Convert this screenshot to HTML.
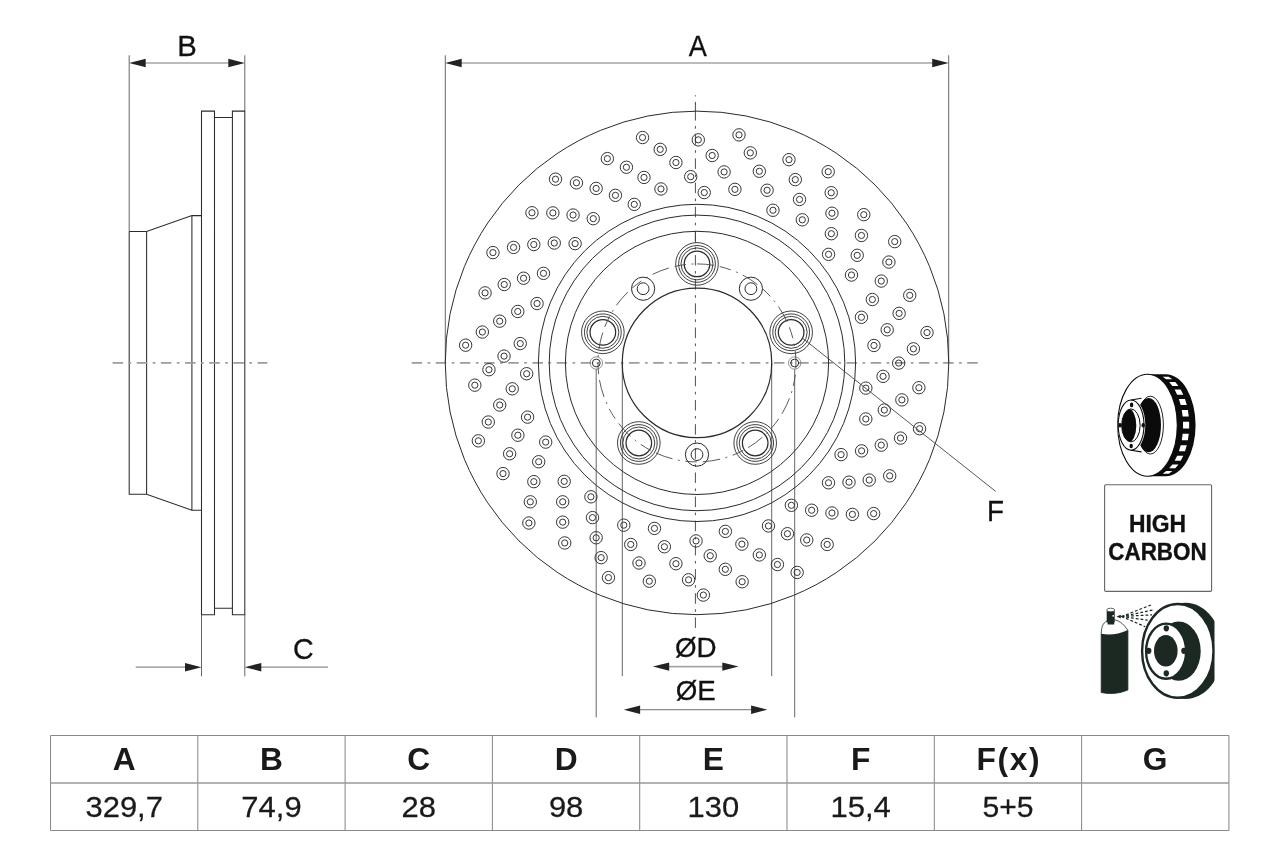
<!DOCTYPE html>
<html lang="en"><head><meta charset="utf-8"><title>Brake disc drawing</title>
<style>html,body{margin:0;padding:0;background:#fff}body{width:1280px;height:853px;overflow:hidden}svg{display:block;will-change:transform}</style>
</head><body>
<svg width="1280" height="853" viewBox="0 0 1280 853">
<rect width="1280" height="853" fill="#fff"/>
<path d="M201.5 111.1H214.5V614.70H201.5Z M232.4 111.1H244.8V614.70H232.4Z M214.5 117.5H232.4M214.5 608.3H232.4 M129.2 231.5V494.30H146.6L191.9 510.20H201.5M129.2 231.5H146.6L191.9 215.6H201.5 M146.6 231.5V494.30M191.9 215.6V510.20" fill="none" stroke="#2b2b2b" stroke-width="1.05"/>
<path d="M129.2 55.3V231.5M244.8 55.3V111.1M201.5 614.70V676.3M244.8 614.70V676.3" stroke="#4a4a4a" stroke-width="0.85" fill="none"/>
<path d="M139.2 63H234.8" stroke="#a6a6a6" stroke-width="1.6"/>
<path d="M129.20 63.00L145.70 58.80V67.20Z" fill="#222"/>
<path d="M244.80 63.00L228.30 58.80V67.20Z" fill="#222"/>
<path d="M135.7 667.2H191.5M254.8 667.2H328" stroke="#8c8c8c" stroke-width="1.2"/>
<path d="M201.50 667.20L185.00 663.00V671.40Z" fill="#222"/>
<path d="M244.80 667.20L261.30 663.00V671.40Z" fill="#222"/>
<path d="M112.6 362.9H267.4" stroke="#9c9c9c" stroke-width="1.7" stroke-dasharray="10.5 5.5 2.6 5.56" fill="none"/>
<path d="M445.3 55.3V362.9M948.7 55.3V362.9" stroke="#4a4a4a" stroke-width="0.85" fill="none"/>
<path d="M455 63H939" stroke="#a6a6a6" stroke-width="1.6"/>
<path d="M445.20 63.00L461.70 58.80V67.20Z" fill="#222"/>
<path d="M948.70 63.00L932.20 58.80V67.20Z" fill="#222"/>
<path d="M622.3 362.9V676.2M771.7 362.9V676.2M596.2 368.9V717.4M794.7 368.9V717.4" stroke="#4a4a4a" stroke-width="0.85" fill="none"/>
<path d="M662 666.6H729" stroke="#a6a6a6" stroke-width="1.6"/><path d="M633 709.7H758" stroke="#8c8c8c" stroke-width="1.2"/>
<path d="M652.90 666.60L669.20 662.40V670.80Z" fill="#222"/>
<path d="M738.60 666.60L722.30 662.40V670.80Z" fill="#222"/>
<path d="M623.80 709.70L640.10 705.50V713.90Z" fill="#222"/>
<path d="M767.40 709.70L751.10 705.50V713.90Z" fill="#222"/>
<path d="M411.6 362.9H978.5" stroke="#9c9c9c" stroke-width="1.7" stroke-dasharray="10.5 5.5 2.6 5.56" fill="none"/>
<path d="M695.4 95.3V628.75" stroke="#444" stroke-width="0.95" stroke-dasharray="10.5 5.5 2.6 5.56" stroke-dashoffset="9.4" fill="none"/>
<path d="M695.4 103.4V110.5M695.4 231V242.7" stroke="#444" stroke-width="0.95" fill="none"/>
<circle cx="697.0" cy="362.9" r="251.75" fill="none" stroke="#2b2b2b" stroke-width="1.0"/>
<circle cx="697.0" cy="362.9" r="158.6" fill="none" stroke="#2b2b2b" stroke-width="1.0"/>
<circle cx="697.0" cy="362.9" r="147.8" fill="none" stroke="#2b2b2b" stroke-width="1.0"/>
<circle cx="697.0" cy="362.9" r="131.6" fill="none" stroke="#2b2b2b" stroke-width="1.0"/>
<circle cx="697.0" cy="362.9" r="74.75" fill="none" stroke="#2b2b2b" stroke-width="1.2"/>
<g fill="none" stroke="#2b2b2b"><circle cx="697.00" cy="263.90" r="21.3" stroke-width="0.9"/><circle cx="697.00" cy="263.90" r="18.4" stroke-width="0.9"/><circle cx="697.00" cy="263.90" r="16" stroke-width="0.9"/><circle cx="697.00" cy="263.90" r="12.8" stroke-width="1.25"/></g>
<g fill="none" stroke="#2b2b2b"><circle cx="602.85" cy="332.31" r="21.3" stroke-width="0.9"/><circle cx="602.85" cy="332.31" r="18.4" stroke-width="0.9"/><circle cx="602.85" cy="332.31" r="16" stroke-width="0.9"/><circle cx="602.85" cy="332.31" r="12.8" stroke-width="1.25"/></g>
<g fill="none" stroke="#2b2b2b"><circle cx="638.81" cy="442.99" r="21.3" stroke-width="0.9"/><circle cx="638.81" cy="442.99" r="18.4" stroke-width="0.9"/><circle cx="638.81" cy="442.99" r="16" stroke-width="0.9"/><circle cx="638.81" cy="442.99" r="12.8" stroke-width="1.25"/></g>
<g fill="none" stroke="#2b2b2b"><circle cx="755.19" cy="442.99" r="21.3" stroke-width="0.9"/><circle cx="755.19" cy="442.99" r="18.4" stroke-width="0.9"/><circle cx="755.19" cy="442.99" r="16" stroke-width="0.9"/><circle cx="755.19" cy="442.99" r="12.8" stroke-width="1.25"/></g>
<g fill="none" stroke="#2b2b2b"><circle cx="791.15" cy="332.31" r="21.3" stroke-width="0.9"/><circle cx="791.15" cy="332.31" r="18.4" stroke-width="0.9"/><circle cx="791.15" cy="332.31" r="16" stroke-width="0.9"/><circle cx="791.15" cy="332.31" r="12.8" stroke-width="1.25"/></g>
<g fill="none" stroke="#2b2b2b" stroke-width="1"><circle cx="643.10" cy="288.71" r="11.6"/><circle cx="643.10" cy="288.71" r="5.9"/></g>
<g fill="none" stroke="#2b2b2b" stroke-width="1"><circle cx="750.90" cy="288.71" r="11.6"/><circle cx="750.90" cy="288.71" r="5.9"/></g>
<g fill="none" stroke="#2b2b2b" stroke-width="1"><circle cx="697.00" cy="454.60" r="11.6"/><circle cx="697.00" cy="454.60" r="5.9"/></g>
<g fill="none"><circle cx="596.3" cy="363.0" r="6.2" stroke="#777" stroke-width="0.8"/><circle cx="596.3" cy="363.0" r="3.9" stroke="#2b2b2b" stroke-width="1"/></g>
<g fill="none"><circle cx="794.7" cy="363.0" r="6.2" stroke="#777" stroke-width="0.8"/><circle cx="794.7" cy="363.0" r="3.9" stroke="#2b2b2b" stroke-width="1"/></g>
<path d="M697.0 263.9A99.0 99.0 0 1 1 696.99 263.9" fill="none" stroke="#484848" stroke-width="0.9" stroke-dasharray="11.5 5.5 2 5.5 17.5 6" stroke-dashoffset="25"/>
<g fill="none" stroke="#2b2b2b" stroke-width="0.95">
<circle cx="555.51" cy="179.18" r="6.2"/><circle cx="555.51" cy="179.18" r="3.1"/>
<circle cx="576.44" cy="182.81" r="6.2"/><circle cx="576.44" cy="182.81" r="3.1"/>
<circle cx="596.16" cy="188.43" r="6.2"/><circle cx="596.16" cy="188.43" r="3.1"/>
<circle cx="615.44" cy="195.35" r="6.2"/><circle cx="615.44" cy="195.35" r="3.1"/>
<circle cx="634.25" cy="204.37" r="6.2"/><circle cx="634.25" cy="204.37" r="3.1"/>
<circle cx="531.95" cy="212.76" r="6.2"/><circle cx="531.95" cy="212.76" r="3.1"/>
<circle cx="552.87" cy="212.91" r="6.2"/><circle cx="552.87" cy="212.91" r="3.1"/>
<circle cx="573.06" cy="215.03" r="6.2"/><circle cx="573.06" cy="215.03" r="3.1"/>
<circle cx="593.25" cy="218.67" r="6.2"/><circle cx="593.25" cy="218.67" r="3.1"/>
<circle cx="492.94" cy="252.62" r="6.2"/><circle cx="492.94" cy="252.62" r="3.1"/>
<circle cx="513.54" cy="247.43" r="6.2"/><circle cx="513.54" cy="247.43" r="3.1"/>
<circle cx="533.83" cy="244.55" r="6.2"/><circle cx="533.83" cy="244.55" r="3.1"/>
<circle cx="554.26" cy="243.03" r="6.2"/><circle cx="554.26" cy="243.03" r="3.1"/>
<circle cx="575.12" cy="243.62" r="6.2"/><circle cx="575.12" cy="243.62" r="3.1"/>
<circle cx="485.07" cy="292.89" r="6.2"/><circle cx="485.07" cy="292.89" r="3.1"/>
<circle cx="504.24" cy="284.52" r="6.2"/><circle cx="504.24" cy="284.52" r="3.1"/>
<circle cx="523.56" cy="278.24" r="6.2"/><circle cx="523.56" cy="278.24" r="3.1"/>
<circle cx="543.48" cy="273.35" r="6.2"/><circle cx="543.48" cy="273.35" r="3.1"/>
<circle cx="465.64" cy="345.18" r="6.2"/><circle cx="465.64" cy="345.18" r="3.1"/>
<circle cx="482.35" cy="332.05" r="6.2"/><circle cx="482.35" cy="332.05" r="3.1"/>
<circle cx="499.72" cy="321.17" r="6.2"/><circle cx="499.72" cy="321.17" r="3.1"/>
<circle cx="517.76" cy="311.47" r="6.2"/><circle cx="517.76" cy="311.47" r="3.1"/>
<circle cx="537.06" cy="303.52" r="6.2"/><circle cx="537.06" cy="303.52" r="3.1"/>
<circle cx="474.83" cy="385.16" r="6.2"/><circle cx="474.83" cy="385.16" r="3.1"/>
<circle cx="488.95" cy="369.71" r="6.2"/><circle cx="488.95" cy="369.71" r="3.1"/>
<circle cx="504.04" cy="356.13" r="6.2"/><circle cx="504.04" cy="356.13" r="3.1"/>
<circle cx="520.25" cy="343.56" r="6.2"/><circle cx="520.25" cy="343.56" r="3.1"/>
<circle cx="478.35" cy="440.83" r="6.2"/><circle cx="478.35" cy="440.83" r="3.1"/>
<circle cx="488.28" cy="422.04" r="6.2"/><circle cx="488.28" cy="422.04" r="3.1"/>
<circle cx="499.72" cy="405.03" r="6.2"/><circle cx="499.72" cy="405.03" r="3.1"/>
<circle cx="512.25" cy="388.83" r="6.2"/><circle cx="512.25" cy="388.83" r="3.1"/>
<circle cx="526.65" cy="373.73" r="6.2"/><circle cx="526.65" cy="373.73" r="3.1"/>
<circle cx="503.01" cy="473.61" r="6.2"/><circle cx="503.01" cy="473.61" r="3.1"/>
<circle cx="509.62" cy="453.76" r="6.2"/><circle cx="509.62" cy="453.76" r="3.1"/>
<circle cx="517.88" cy="435.21" r="6.2"/><circle cx="517.88" cy="435.21" r="3.1"/>
<circle cx="527.58" cy="417.14" r="6.2"/><circle cx="527.58" cy="417.14" r="3.1"/>
<circle cx="528.87" cy="523.04" r="6.2"/><circle cx="528.87" cy="523.04" r="3.1"/>
<circle cx="530.30" cy="501.84" r="6.2"/><circle cx="530.30" cy="501.84" r="3.1"/>
<circle cx="533.83" cy="481.65" r="6.2"/><circle cx="533.83" cy="481.65" r="3.1"/>
<circle cx="538.69" cy="461.75" r="6.2"/><circle cx="538.69" cy="461.75" r="3.1"/>
<circle cx="545.70" cy="442.10" r="6.2"/><circle cx="545.70" cy="442.10" r="3.1"/>
<circle cx="564.73" cy="542.96" r="6.2"/><circle cx="564.73" cy="542.96" r="3.1"/>
<circle cx="562.70" cy="522.14" r="6.2"/><circle cx="562.70" cy="522.14" r="3.1"/>
<circle cx="562.70" cy="501.83" r="6.2"/><circle cx="562.70" cy="501.83" r="3.1"/>
<circle cx="564.20" cy="481.37" r="6.2"/><circle cx="564.20" cy="481.37" r="3.1"/>
<circle cx="608.46" cy="577.59" r="6.2"/><circle cx="608.46" cy="577.59" r="3.1"/>
<circle cx="601.14" cy="557.65" r="6.2"/><circle cx="601.14" cy="557.65" r="3.1"/>
<circle cx="596.15" cy="537.77" r="6.2"/><circle cx="596.15" cy="537.77" r="3.1"/>
<circle cx="592.50" cy="517.61" r="6.2"/><circle cx="592.50" cy="517.61" r="3.1"/>
<circle cx="590.91" cy="496.81" r="6.2"/><circle cx="590.91" cy="496.81" r="3.1"/>
<circle cx="649.32" cy="581.21" r="6.2"/><circle cx="649.32" cy="581.21" r="3.1"/>
<circle cx="638.99" cy="563.01" r="6.2"/><circle cx="638.99" cy="563.01" r="3.1"/>
<circle cx="630.74" cy="544.46" r="6.2"/><circle cx="630.74" cy="544.46" r="3.1"/>
<circle cx="623.79" cy="525.16" r="6.2"/><circle cx="623.79" cy="525.16" r="3.1"/>
<circle cx="703.36" cy="595.06" r="6.2"/><circle cx="703.36" cy="595.06" r="3.1"/>
<circle cx="688.56" cy="579.82" r="6.2"/><circle cx="688.56" cy="579.82" r="3.1"/>
<circle cx="675.92" cy="563.69" r="6.2"/><circle cx="675.92" cy="563.69" r="3.1"/>
<circle cx="664.39" cy="546.76" r="6.2"/><circle cx="664.39" cy="546.76" r="3.1"/>
<circle cx="654.47" cy="528.40" r="6.2"/><circle cx="654.47" cy="528.40" r="3.1"/>
<circle cx="742.16" cy="581.74" r="6.2"/><circle cx="742.16" cy="581.74" r="3.1"/>
<circle cx="725.32" cy="569.32" r="6.2"/><circle cx="725.32" cy="569.32" r="3.1"/>
<circle cx="710.23" cy="555.74" r="6.2"/><circle cx="710.23" cy="555.74" r="3.1"/>
<circle cx="696.04" cy="540.93" r="6.2"/><circle cx="696.04" cy="540.93" r="3.1"/>
<circle cx="797.16" cy="572.42" r="6.2"/><circle cx="797.16" cy="572.42" r="3.1"/>
<circle cx="777.44" cy="564.51" r="6.2"/><circle cx="777.44" cy="564.51" r="3.1"/>
<circle cx="759.33" cy="554.92" r="6.2"/><circle cx="759.33" cy="554.92" r="3.1"/>
<circle cx="741.90" cy="544.14" r="6.2"/><circle cx="741.90" cy="544.14" r="3.1"/>
<circle cx="725.38" cy="531.40" r="6.2"/><circle cx="725.38" cy="531.40" r="3.1"/>
<circle cx="827.19" cy="544.47" r="6.2"/><circle cx="827.19" cy="544.47" r="3.1"/>
<circle cx="806.75" cy="539.98" r="6.2"/><circle cx="806.75" cy="539.98" r="3.1"/>
<circle cx="787.44" cy="533.70" r="6.2"/><circle cx="787.44" cy="533.70" r="3.1"/>
<circle cx="768.45" cy="525.94" r="6.2"/><circle cx="768.45" cy="525.94" r="3.1"/>
<circle cx="873.64" cy="513.59" r="6.2"/><circle cx="873.64" cy="513.59" r="3.1"/>
<circle cx="852.40" cy="514.38" r="6.2"/><circle cx="852.40" cy="514.38" r="3.1"/>
<circle cx="831.96" cy="512.98" r="6.2"/><circle cx="831.96" cy="512.98" r="3.1"/>
<circle cx="811.66" cy="510.23" r="6.2"/><circle cx="811.66" cy="510.23" r="3.1"/>
<circle cx="791.38" cy="505.31" r="6.2"/><circle cx="791.38" cy="505.31" r="3.1"/>
<circle cx="889.70" cy="475.84" r="6.2"/><circle cx="889.70" cy="475.84" r="3.1"/>
<circle cx="869.21" cy="480.04" r="6.2"/><circle cx="869.21" cy="480.04" r="3.1"/>
<circle cx="849.01" cy="482.16" r="6.2"/><circle cx="849.01" cy="482.16" r="3.1"/>
<circle cx="828.51" cy="482.80" r="6.2"/><circle cx="828.51" cy="482.80" r="3.1"/>
<circle cx="919.57" cy="428.73" r="6.2"/><circle cx="919.57" cy="428.73" r="3.1"/>
<circle cx="900.50" cy="438.09" r="6.2"/><circle cx="900.50" cy="438.09" r="3.1"/>
<circle cx="881.25" cy="445.13" r="6.2"/><circle cx="881.25" cy="445.13" r="3.1"/>
<circle cx="861.59" cy="450.87" r="6.2"/><circle cx="861.59" cy="450.87" r="3.1"/>
<circle cx="841.06" cy="454.63" r="6.2"/><circle cx="841.06" cy="454.63" r="3.1"/>
<circle cx="918.90" cy="387.72" r="6.2"/><circle cx="918.90" cy="387.72" r="3.1"/>
<circle cx="901.88" cy="399.89" r="6.2"/><circle cx="901.88" cy="399.89" r="3.1"/>
<circle cx="884.30" cy="410.04" r="6.2"/><circle cx="884.30" cy="410.04" r="3.1"/>
<circle cx="865.83" cy="418.97" r="6.2"/><circle cx="865.83" cy="418.97" r="3.1"/>
<circle cx="927.03" cy="332.53" r="6.2"/><circle cx="927.03" cy="332.53" r="3.1"/>
<circle cx="913.41" cy="348.84" r="6.2"/><circle cx="913.41" cy="348.84" r="3.1"/>
<circle cx="898.69" cy="363.10" r="6.2"/><circle cx="898.69" cy="363.10" r="3.1"/>
<circle cx="883.06" cy="376.34" r="6.2"/><circle cx="883.06" cy="376.34" r="3.1"/>
<circle cx="865.84" cy="388.12" r="6.2"/><circle cx="865.84" cy="388.12" r="3.1"/>
<circle cx="909.73" cy="295.33" r="6.2"/><circle cx="909.73" cy="295.33" r="3.1"/>
<circle cx="899.13" cy="313.38" r="6.2"/><circle cx="899.13" cy="313.38" r="3.1"/>
<circle cx="887.20" cy="329.80" r="6.2"/><circle cx="887.20" cy="329.80" r="3.1"/>
<circle cx="873.95" cy="345.47" r="6.2"/><circle cx="873.95" cy="345.47" r="3.1"/>
<circle cx="894.71" cy="241.61" r="6.2"/><circle cx="894.71" cy="241.61" r="3.1"/>
<circle cx="888.90" cy="262.05" r="6.2"/><circle cx="888.90" cy="262.05" r="3.1"/>
<circle cx="881.25" cy="281.07" r="6.2"/><circle cx="881.25" cy="281.07" r="3.1"/>
<circle cx="872.36" cy="299.52" r="6.2"/><circle cx="872.36" cy="299.52" r="3.1"/>
<circle cx="861.42" cy="317.29" r="6.2"/><circle cx="861.42" cy="317.29" r="3.1"/>
<circle cx="863.77" cy="214.67" r="6.2"/><circle cx="863.77" cy="214.67" r="3.1"/>
<circle cx="861.43" cy="235.46" r="6.2"/><circle cx="861.43" cy="235.46" r="3.1"/>
<circle cx="857.21" cy="255.32" r="6.2"/><circle cx="857.21" cy="255.32" r="3.1"/>
<circle cx="851.48" cy="275.02" r="6.2"/><circle cx="851.48" cy="275.02" r="3.1"/>
<circle cx="828.20" cy="171.70" r="6.2"/><circle cx="828.20" cy="171.70" r="3.1"/>
<circle cx="831.21" cy="192.73" r="6.2"/><circle cx="831.21" cy="192.73" r="3.1"/>
<circle cx="831.96" cy="213.22" r="6.2"/><circle cx="831.96" cy="213.22" r="3.1"/>
<circle cx="831.34" cy="233.69" r="6.2"/><circle cx="831.34" cy="233.69" r="3.1"/>
<circle cx="828.57" cy="254.37" r="6.2"/><circle cx="828.57" cy="254.37" r="3.1"/>
<circle cx="788.98" cy="159.67" r="6.2"/><circle cx="788.98" cy="159.67" r="3.1"/>
<circle cx="795.30" cy="179.61" r="6.2"/><circle cx="795.30" cy="179.61" r="3.1"/>
<circle cx="799.52" cy="199.48" r="6.2"/><circle cx="799.52" cy="199.48" r="3.1"/>
<circle cx="802.30" cy="219.80" r="6.2"/><circle cx="802.30" cy="219.80" r="3.1"/>
<circle cx="739.01" cy="134.88" r="6.2"/><circle cx="739.01" cy="134.88" r="3.1"/>
<circle cx="750.31" cy="152.87" r="6.2"/><circle cx="750.31" cy="152.87" r="3.1"/>
<circle cx="759.33" cy="171.28" r="6.2"/><circle cx="759.33" cy="171.28" r="3.1"/>
<circle cx="767.09" cy="190.24" r="6.2"/><circle cx="767.09" cy="190.24" r="3.1"/>
<circle cx="772.97" cy="210.26" r="6.2"/><circle cx="772.97" cy="210.26" r="3.1"/>
<circle cx="698.29" cy="139.84" r="6.2"/><circle cx="698.29" cy="139.84" r="3.1"/>
<circle cx="712.17" cy="155.49" r="6.2"/><circle cx="712.17" cy="155.49" r="3.1"/>
<circle cx="724.11" cy="171.92" r="6.2"/><circle cx="724.11" cy="171.92" r="3.1"/>
<circle cx="734.91" cy="189.36" r="6.2"/><circle cx="734.91" cy="189.36" r="3.1"/>
<circle cx="642.55" cy="137.53" r="6.2"/><circle cx="642.55" cy="137.53" r="3.1"/>
<circle cx="660.20" cy="149.37" r="6.2"/><circle cx="660.20" cy="149.37" r="3.1"/>
<circle cx="675.92" cy="162.51" r="6.2"/><circle cx="675.92" cy="162.51" r="3.1"/>
<circle cx="690.72" cy="176.68" r="6.2"/><circle cx="690.72" cy="176.68" r="3.1"/>
<circle cx="704.24" cy="192.57" r="6.2"/><circle cx="704.24" cy="192.57" r="3.1"/>
<circle cx="607.37" cy="158.62" r="6.2"/><circle cx="607.37" cy="158.62" r="3.1"/>
<circle cx="626.42" cy="167.27" r="6.2"/><circle cx="626.42" cy="167.27" r="3.1"/>
<circle cx="644.00" cy="177.43" r="6.2"/><circle cx="644.00" cy="177.43" r="3.1"/>
<circle cx="660.97" cy="188.96" r="6.2"/><circle cx="660.97" cy="188.96" r="3.1"/>
</g>
<path d="M802.8 338.4L995.7 491.4" stroke="#444" stroke-width="0.9" fill="none"/>
<g font-family="'Liberation Sans',Arial,Helvetica,sans-serif" fill="#111" stroke="#111" stroke-width="0.3" text-anchor="middle"><text transform="translate(187.05 55.6) scale(0.99 1.0)" font-size="29.6">B</text><text transform="translate(697.9 55.6) scale(0.91 1.0)" font-size="29.8">A</text><text transform="translate(303.3 658.7) scale(0.96 1.0)" font-size="29.8">C</text><text transform="translate(695.7 656.9) scale(0.98 1.0)" font-size="28.3">ØD</text><text transform="translate(695.8 700) scale(0.98 1.0)" font-size="28.3">ØE</text><text transform="translate(995.6 520.6) scale(0.94 1.0)" font-size="29.6">F</text></g>
<path d="M1147.5 374.2L1165.8 374.2A29.8 51.0 0 0 1 1165.8 476.2L1147.5 476.2Z" fill="#0b0b0b"/>
<ellipse cx="1147.5" cy="425.2" rx="29.8" ry="51.0" fill="#fff" stroke="#0b0b0b" stroke-width="1.1"/>
<path d="M1183.03 421.82L1189.13 421.82L1189.13 428.58L1183.03 428.58Z M1182.67 433.79L1188.77 433.79L1187.85 440.37L1181.75 440.37Z M1181.75 410.03L1187.85 410.03L1188.77 416.61L1182.67 416.61Z M1180.69 445.29L1186.79 445.29L1185.00 451.31L1178.90 451.31Z M1178.90 399.09L1185.00 399.09L1186.79 405.11L1180.69 405.11Z M1177.19 455.68L1183.29 455.68L1180.73 460.82L1174.63 460.82Z M1174.63 389.58L1180.73 389.58L1183.29 394.72L1177.19 394.72Z M1172.38 464.38L1178.48 464.38L1175.28 468.36L1169.18 468.36Z M1169.18 382.04L1175.28 382.04L1178.48 386.02L1172.38 386.02Z M1166.27 471.12L1172.37 471.12L1168.71 473.65L1162.61 473.65Z M1162.61 376.75L1168.71 376.75L1172.37 379.28L1166.27 379.28Z" fill="#fff"/>
<ellipse cx="1150.4" cy="425.1" rx="13" ry="28.9" fill="#fff" stroke="#0b0b0b" stroke-width="0.9"/>
<ellipse cx="1148.6" cy="425.1" rx="12.4" ry="27.2" fill="#0b0b0b"/>
<ellipse cx="1131.5" cy="425.1" rx="13.8" ry="25.9" fill="#fff"/>
<ellipse cx="1131.1" cy="425.1" rx="12.9" ry="25.1" fill="#fff" stroke="#0b0b0b" stroke-width="1.1"/>
<path d="M1131.1 400L1141.5 398.3M1131.1 450.2L1141.5 451.9" stroke="#0b0b0b" stroke-width="1.1" fill="none"/>
<ellipse cx="1130.9" cy="425.4" rx="9.2" ry="16.5" fill="#fff" stroke="#0b0b0b" stroke-width="1"/>
<clipPath id="boreclip"><ellipse cx="1130.9" cy="425.4" rx="9.2" ry="16.5"/></clipPath>
<ellipse cx="1128.7" cy="425.4" rx="7.6" ry="16.6" fill="#0b0b0b" clip-path="url(#boreclip)"/>
<ellipse cx="1131.6" cy="404.9" rx="1.7" ry="2.3" fill="#0b0b0b"/>
<ellipse cx="1143.2" cy="425.2" rx="1.7" ry="2.3" fill="#0b0b0b"/>
<ellipse cx="1131.2" cy="446.0" rx="1.7" ry="2.3" fill="#0b0b0b"/>
<ellipse cx="1120.0" cy="425.2" rx="1.7" ry="2.3" fill="#0b0b0b"/>
<rect x="1104.6" y="484.8" width="107" height="106.6" rx="1.2" fill="#fff" stroke="#666" stroke-width="1.1"/>
<text transform="translate(1157.5 532) scale(1.04 1.07)" text-anchor="middle" font-family="'Liberation Sans',Arial,sans-serif" font-weight="700" font-size="22" fill="#111" stroke="#111" stroke-width="0.35">HIGH</text>
<text transform="translate(1157.5 559.9) scale(1.02 1.07)" text-anchor="middle" font-family="'Liberation Sans',Arial,sans-serif" font-weight="700" font-size="22" fill="#111" stroke="#111" stroke-width="0.35">CARBON</text>
<clipPath id="sprayclip"><rect x="1090" y="595" width="124.5" height="120"/></clipPath>
<g clip-path="url(#sprayclip)">
<ellipse cx="1185.6" cy="650.9" rx="36.9" ry="48.1" fill="#1c2922"/>
<ellipse cx="1177.8" cy="650.9" rx="35.7" ry="46.9" fill="#fff" stroke="#1c2922" stroke-width="2.4"/>
<ellipse cx="1178.7" cy="651.2" rx="22" ry="29.6" fill="#1c2922"/>
<ellipse cx="1166.1" cy="651.2" rx="20" ry="27.6" fill="#fff" stroke="#1c2922" stroke-width="2.4"/>
<ellipse cx="1165.8" cy="650.8" rx="11.8" ry="15.7" fill="#1c2922"/>
<ellipse cx="1166.3" cy="628.3" rx="2.7" ry="3.1" fill="#1c2922"/>
<ellipse cx="1183.9" cy="650.8" rx="2.7" ry="3.1" fill="#1c2922"/>
<ellipse cx="1166.3" cy="673.3" rx="2.7" ry="3.1" fill="#1c2922"/>
<ellipse cx="1148.7" cy="650.8" rx="2.7" ry="3.1" fill="#1c2922"/>
</g>
<path d="M1101.2 634 C1101.5 626 1103 621.5 1110.5 619.6 C1118 619 1124 624 1127.9 630.5 L1127.9 690 Q1115 695.5 1101.2 692.6Z" fill="#fff" stroke="#1c2922" stroke-width="0.8"/>
<path d="M1101.2 633.8 Q1114 636.5 1127.9 630 L1127.9 690 Q1115 695.5 1101.2 692.6Z" fill="#1c2922"/>
<rect x="1106.7" y="610.5" width="8" height="12" fill="#1c2922"/>
<rect x="1107.6" y="621.5" width="6.6" height="3" fill="#1c2922"/>
<ellipse cx="1110.7" cy="610" rx="4" ry="1.8" fill="#fff" stroke="#1c2922" stroke-width="0.7"/>
<circle cx="1113.2" cy="615.8" r="0.9" fill="#fff"/>
<path d="M1116.5 616.5L1120.8 614.7V618.4Z" fill="#1c2922"/>
<path d="M1121.5 616.5L1152 604.6" stroke="#1c2922" stroke-width="1.25" stroke-dasharray="2.8 2" fill="none"/>
<path d="M1121.5 616.5L1153.6 609.9" stroke="#1c2922" stroke-width="1.25" stroke-dasharray="2.8 2" fill="none"/>
<path d="M1121.5 616.5L1152 614.8" stroke="#1c2922" stroke-width="1.25" stroke-dasharray="2.8 2" fill="none"/>
<path d="M1121.5 616.5L1147.6 620.2" stroke="#1c2922" stroke-width="1.25" stroke-dasharray="2.8 2" fill="none"/>
<path d="M1121.5 616.5L1145.3 626.7" stroke="#1c2922" stroke-width="1.25" stroke-dasharray="2.8 2" fill="none"/>
<g stroke="#8a8a8a" stroke-width="1.05" fill="none"><path d="M50.5 735.5H1229M50.5 830.5H1229M50.5 735.5V830.5M197.8 735.5V830.5M345.1 735.5V830.5M492.4 735.5V830.5M639.7 735.5V830.5M787.0 735.5V830.5M934.3 735.5V830.5M1081.6 735.5V830.5M1228.9 735.5V830.5"/><path d="M50.5 783.1H1229" stroke-width="1.5" stroke="#999"/></g><g font-family="'Liberation Sans',Arial,Helvetica,sans-serif" fill="#1a1a1a" text-anchor="middle"><text transform="translate(124.2 770.4) scale(1.04 1)" font-size="30.5" font-weight="700">A</text><text transform="translate(124.2 817.1) scale(1.05 1.02)" font-size="29.5" stroke="#1a1a1a" stroke-width="0.25">329,7</text><text transform="translate(271.5 770.4) scale(1.04 1)" font-size="30.5" font-weight="700">B</text><text transform="translate(271.5 817.1) scale(1.05 1.02)" font-size="29.5" stroke="#1a1a1a" stroke-width="0.25">74,9</text><text transform="translate(418.8 770.4) scale(1.04 1)" font-size="30.5" font-weight="700">C</text><text transform="translate(418.8 817.1) scale(1.05 1.02)" font-size="29.5" stroke="#1a1a1a" stroke-width="0.25">28</text><text transform="translate(566.1 770.4) scale(1.04 1)" font-size="30.5" font-weight="700">D</text><text transform="translate(566.1 817.1) scale(1.05 1.02)" font-size="29.5" stroke="#1a1a1a" stroke-width="0.25">98</text><text transform="translate(713.4 770.4) scale(1.04 1)" font-size="30.5" font-weight="700">E</text><text transform="translate(713.4 817.1) scale(1.05 1.02)" font-size="29.5" stroke="#1a1a1a" stroke-width="0.25">130</text><text transform="translate(860.7 770.4) scale(1.04 1)" font-size="30.5" font-weight="700">F</text><text transform="translate(860.7 817.1) scale(1.05 1.02)" font-size="29.5" stroke="#1a1a1a" stroke-width="0.25">15,4</text><text transform="translate(1008.8 770.4) scale(1.04 1)" font-size="30.5" font-weight="700" letter-spacing="1.6">F(x)</text><text transform="translate(1008.0 817.1) scale(1.02 1.02)" font-size="29.5" stroke="#1a1a1a" stroke-width="0.25">5+5</text><text transform="translate(1155.2 770.4) scale(1.04 1)" font-size="30.5" font-weight="700">G</text></g>
</svg>
</body></html>
